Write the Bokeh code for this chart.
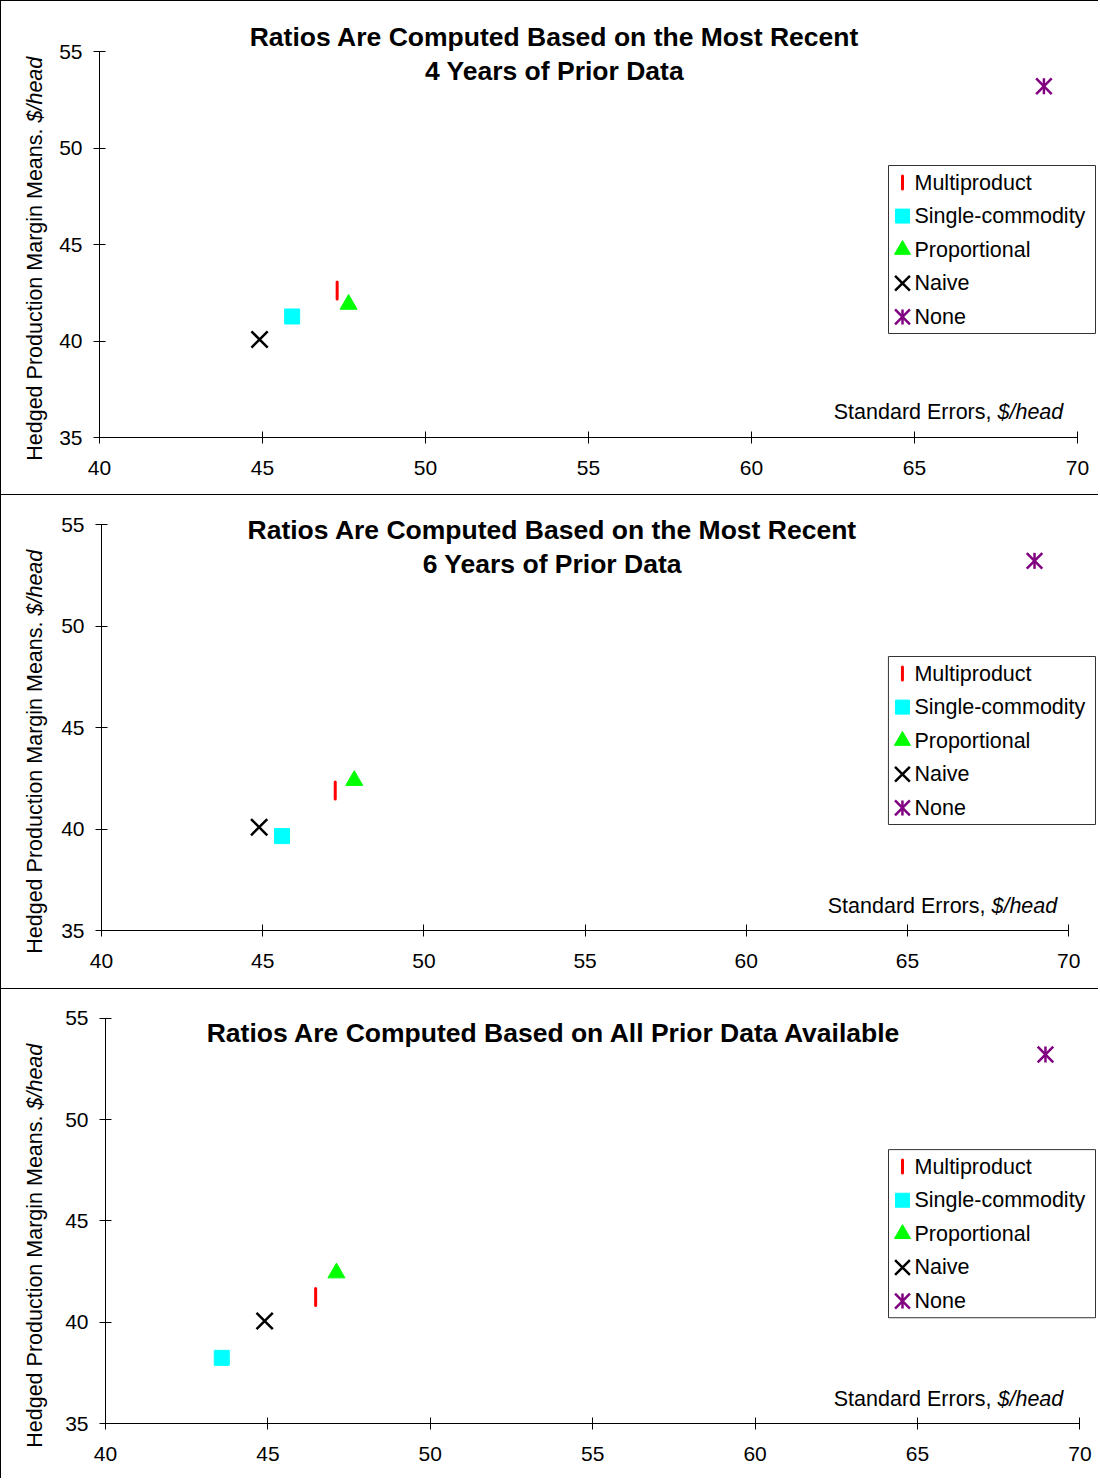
import math
from bokeh.plotting import figure
from bokeh.models import Range1d, FixedTicker, Label
from bokeh.layouts import column, row
from bokeh.embed import file_html
from bokeh.resources import INLINE

# ---------------- data ----------------
categories = ["Multiproduct", "Single-commodity", "Proportional", "Naive", "None"]
x_ticks = [40, 45, 50, 55, 60, 65, 70]
y_ticks = [35, 40, 45, 50, 55]

# panel 1: most recent 4 years
p1_x = [47.29, 45.91, 47.64, 44.91, 68.97]
p1_y = [42.62, 41.27, 41.90, 40.08, 53.20]
# panel 2: most recent 6 years
p2_x = [47.25, 45.60, 47.84, 44.89, 68.94]
p2_y = [41.90, 39.65, 42.39, 40.09, 53.21]
# panel 3: all prior data
p3_x = [46.47, 43.58, 47.11, 44.90, 68.94]
p3_y = [41.24, 38.24, 42.43, 40.06, 53.21]

titles = [
    ["Ratios Are Computed Based on the Most Recent", "4 Years of Prior Data"],
    ["Ratios Are Computed Based on the Most Recent", "6 Years of Prior Data"],
    ["Ratios Are Computed Based on All Prior Data Available"],
]
y_label_main = "Hedged Production Margin Means."
y_label_unit = "$/head"
x_label_main = "Standard Errors,"
x_label_unit = "$/head"

FONT = "Liberation Sans"
BORDER = "1px solid #000"
YF_LEFT, YF_W = 1, 50          # label strip: page x 1..51
MAIN_LEFT, MAIN_W = 51, 1048   # main plot: page x 51..1099
PAGE_RIGHT = MAIN_LEFT + MAIN_W

# geometry of each panel (page pixels)
panels = [
    dict(xs=p1_x, ys=p1_y, title=titles[0], top=1, height=495, x40=100, kx=32.6, y35=437, ky=19.3,
         title_cx=555, title_y=[36, 70], xlab_y=411, xlab_split=998, ylab_split=122, leg_top=165,
         bt=True, bb=True),
    dict(xs=p2_x, ys=p2_y, title=titles[1], top=497, height=494, x40=102.3, kx=32.23, y35=932, ky=20.3,
         title_cx=553, title_y=[531, 565], xlab_y=907, xlab_split=992, ylab_split=617, leg_top=658,
         bt=False, bb=True),
    dict(xs=p3_x, ys=p3_y, title=titles[2], top=992, height=489, x40=106, kx=32.48, y35=1425.7, ky=20.25,
         title_cx=555, title_y=[1035], xlab_y=1401, xlab_split=998, ylab_split=1112, leg_top=1152,
         bt=False, bb=False),
]

RED, CYAN, GREEN, BLACK, PURPLE = "#FF0000", "#00FFFF", "#00FF00", "#000000", "#800080"


def draw_marker(p, i, x, y, legend=False):
    if i == 0:
        p.scatter([x], [y], marker="dash", size=(13 if legend else 17), angle=math.pi / 2,
                  line_color=RED, line_width=3, line_cap="round")
    elif i == 1:
        p.scatter([x], [y], marker="square", size=(14 if legend else 15), fill_color=CYAN,
                  line_color=CYAN, line_width=1)
    elif i == 2:
        p.scatter([x], [y], marker="triangle", size=(16 if legend else 17), fill_color=GREEN,
                  line_color=GREEN, line_width=1)
    elif i == 3:
        p.scatter([x], [y], marker="x", size=(21 if legend else 23), line_color=BLACK, line_width=2.5)
    else:
        p.scatter([x], [y], marker="x", size=(21 if legend else 22), line_color=PURPLE, line_width=2.5)
        p.scatter([x], [y], marker="dash", size=(15 if legend else 16), angle=math.pi / 2,
                  line_color=PURPLE, line_width=2.5)


def border_styles(g, left=False):
    st = {}
    if left:
        st["border-left"] = BORDER
    if g["bt"]:
        st["border-top"] = BORDER
    if g["bb"]:
        st["border-bottom"] = BORDER
    return st


def make_label_strip(g):
    top, bot = g["top"], g["top"] + g["height"]
    p = figure(width=YF_W, height=g["height"], x_range=Range1d(YF_LEFT, YF_LEFT + YF_W),
               y_range=Range1d(bot, top), output_backend="svg", toolbar_location=None, tools="",
               title=None, x_axis_location=None, y_axis_location=None,
               min_border_left=0, min_border_right=0, min_border_top=0, min_border_bottom=0)
    p.styles = border_styles(g, left=True)
    p.outline_line_color = None
    p.grid.visible = False
    p.background_fill_color = "white"
    p.border_fill_color = "white"
    p.add_layout(Label(x=34, y=g["ylab_split"] + 6, text=y_label_main, text_font=FONT,
                       text_font_size="21.5px", text_align="right", text_baseline="middle",
                       angle=math.pi / 2, text_color="black"))
    p.add_layout(Label(x=34, y=g["ylab_split"], text=y_label_unit, text_font=FONT,
                       text_font_size="21.5px", text_font_style="italic", text_align="left",
                       text_baseline="middle", angle=math.pi / 2, text_color="black"))
    return p


def make_panel(g):
    dx = lambda px: 40 + (px - g["x40"]) / g["kx"]
    dy = lambda py: 35 + (g["y35"] - py) / g["ky"]
    bottom = g["top"] + g["height"]
    p = figure(width=MAIN_W, height=g["height"],
               x_range=Range1d(40, dx(PAGE_RIGHT)), y_range=Range1d(35, dy(g["top"])),
               output_backend="svg", toolbar_location=None, tools="", title=None,
               min_border_left=int(round(g["x40"] - MAIN_LEFT)), min_border_right=0,
               min_border_top=0, min_border_bottom=int(round(bottom - g["y35"])))
    p.styles = border_styles(g)
    p.outline_line_color = None
    p.grid.visible = False
    p.background_fill_color = "white"
    p.border_fill_color = "white"

    p.xaxis.ticker = FixedTicker(ticks=x_ticks)
    p.yaxis.ticker = FixedTicker(ticks=y_ticks)
    p.xaxis.bounds = (40, 70)
    p.yaxis.bounds = (35, 55)
    for ax in (p.xaxis, p.yaxis):
        ax.axis_line_color = "black"
        ax.axis_line_width = 1
        ax.major_tick_line_color = "black"
        ax.major_tick_in = 6
        ax.major_tick_out = 6
        ax.minor_tick_line_color = None
        ax.major_label_text_font = FONT
        ax.major_label_text_font_size = "21px"
        ax.major_label_text_color = "black"
    p.xaxis.major_label_standoff = 17
    p.yaxis.major_label_standoff = 11

    # data points
    for i in range(len(categories)):
        draw_marker(p, i, g["xs"][i], g["ys"][i])

    # titles
    for line, ty in zip(g["title"], g["title_y"]):
        p.add_layout(Label(x=dx(g["title_cx"]), y=dy(ty), text=line, text_font=FONT,
                           text_font_size="26.5px", text_font_style="bold", text_align="center",
                           text_baseline="middle", text_color="black"))

    # x-axis label (inside plot, bottom right)
    p.add_layout(Label(x=dx(g["xlab_split"] - 6), y=dy(g["xlab_y"]), text=x_label_main, text_font=FONT,
                       text_font_size="21.5px", text_align="right", text_baseline="middle",
                       text_color="black"))
    p.add_layout(Label(x=dx(g["xlab_split"]), y=dy(g["xlab_y"]), text=x_label_unit, text_font=FONT,
                       text_font_size="21.5px", text_font_style="italic", text_align="left",
                       text_baseline="middle", text_color="black"))

    # legend box
    lt = g["leg_top"]
    p.quad(left=[dx(889)], right=[dx(1096)], top=[dy(lt)], bottom=[dy(lt + 168)],
           fill_color="white", line_color="#333333", line_width=1)
    for i, cat in enumerate(categories):
        iy = lt + 17 + i * 33.6
        draw_marker(p, i, dx(903), dy(iy), legend=True)
        p.add_layout(Label(x=dx(915), y=dy(iy), text=cat, text_font=FONT, text_font_size="21.5px",
                           text_align="left", text_baseline="middle", text_color="black"))
    return p


# the label strip is wrapped in its own column so that its frame is not aligned
# with the main plot's frame (it must span the full height of the panel)
rows = [row(column(make_label_strip(g), spacing=0), make_panel(g), spacing=0) for g in panels]
layout = column(*rows, spacing=0)

open("out.html", "w").write(file_html(layout, INLINE))
